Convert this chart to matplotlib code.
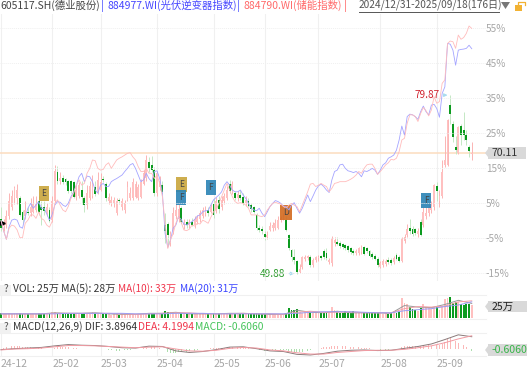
import matplotlib
matplotlib.use("Agg")
import matplotlib.pyplot as plt
from matplotlib.patches import Polygon, Rectangle

plt.rcParams['font.family'] = ['Noto Sans CJK SC', 'DejaVu Sans']

W, H = 528, 372

opens = [59.0,57.8,58.0,59.5,61.0,62.5,62.5,62.5,60.2,59.5,
         60.3,60.0,60.3,60.5,62.0,61.0,61.0,60.0,60.5,58.8,
         62.0,67.0,65.5,66.0,65.8,65.4,65.4,65.3,62.8,63.0,
         64.0,62.5,61.4,62.5,63.0,64.5,63.5,64.0,65.8,64.9,
         62.0,61.8,61.8,60.0,62.2,61.0,60.5,62.3,62.5,62.5,
         62.8,62.5,62.8,65.0,66.0,68.7,68.2,67.3,63.4,64.5,
         64.8,58.0,58.2,55.0,57.0,59.5,59.0,60.9,58.0,58.5,
         58.0,58.6,58.0,58.5,59.0,59.5,60.0,60.5,60.3,61.5,
         60.5,62.3,61.0,62.0,62.5,65.0,64.0,63.4,62.5,63.1,
         62.8,61.8,62.0,61.4,61.0,59.7,57.5,57.4,56.6,56.0,
         57.2,57.5,57.6,57.5,58.8,59.0,58.9,56.4,53.9,52.6,
         52.0,50.2,51.0,52.3,52.5,52.7,51.3,52.2,52.5,52.8,
         53.6,53.4,51.8,51.6,55.0,55.2,55.0,54.8,54.6,54.5,
         54.2,53.7,53.3,53.4,53.5,54.3,54.2,53.6,53.2,52.9,
         52.4,51.0,51.3,51.5,52.2,52.2,51.8,53.0,52.6,52.0,
         55.3,56.4,57.5,57.3,57.3,56.5,58.5,58.0,59.5,60.0,
         60.5,61.0,64.6,62.0,63.0,68.1,68.1,78.2,75.1,71.2,
         70.1,74.6,74.0,73.2,71.2,70.0]
closes = [57.6,58.2,59.5,62.0,63.0,64.2,64.0,59.8,58.8,60.5,
          60.0,61.0,61.5,61.6,60.2,60.5,60.4,61.0,58.7,62.0,
          67.2,65.5,66.0,65.3,65.2,63.8,63.7,62.8,64.0,64.8,
          62.8,61.4,63.5,64.6,65.0,63.3,65.6,65.2,65.6,62.5,
          62.8,62.3,62.2,62.0,62.0,62.0,61.8,64.5,63.5,65.2,
          65.0,64.5,65.3,66.8,69.0,67.6,67.3,63.4,66.8,65.5,
          63.6,57.0,56.3,56.5,60.0,60.5,60.8,58.6,58.4,58.1,
          58.5,58.1,59.0,59.2,60.0,60.5,60.4,60.0,61.0,59.7,
          62.0,60.8,62.3,63.0,64.0,63.8,65.0,62.6,63.2,62.6,
          61.8,62.2,61.2,60.8,60.3,57.6,57.2,57.0,56.0,56.3,
          57.8,58.0,58.3,58.9,59.2,59.4,57.2,54.1,52.7,52.2,
          50.2,50.6,52.6,52.7,52.8,51.3,52.2,52.6,52.6,52.5,
          52.6,52.5,52.2,55.8,55.5,54.9,54.5,54.4,54.1,53.8,
          53.5,53.4,53.6,54.1,54.3,53.2,53.6,52.9,52.6,52.4,
          51.3,51.6,52.0,52.0,51.8,51.6,52.5,52.4,52.0,55.8,
          56.1,57.3,57.0,56.6,56.7,57.0,56.4,60.3,60.0,61.0,
          61.2,64.8,63.7,63.0,67.0,69.0,75.7,76.7,72.9,70.6,
          74.5,73.1,73.2,72.3,70.5,70.11]
highs = [61.0,59.0,60.5,63.5,64.0,64.6,65.0,63.0,60.5,62.0,
         61.0,62.5,63.0,63.0,63.0,62.0,62.0,61.8,61.0,63.0,
         68.2,68.0,67.0,66.5,66.0,65.6,65.6,65.5,65.0,65.2,
         65.4,63.0,64.8,65.5,66.5,65.5,67.0,66.8,66.2,65.2,
         63.5,63.0,62.8,62.6,62.6,62.5,62.3,65.5,64.5,66.0,
         65.5,65.0,65.8,67.3,69.8,69.5,69.7,67.8,67.2,66.2,
         65.5,60.0,58.5,57.0,61.0,61.5,61.5,61.2,59.0,59.0,
         59.0,59.2,59.5,59.8,60.5,61.0,61.3,61.0,61.5,62.5,
         62.8,63.0,63.0,63.5,64.6,65.6,65.5,63.8,63.8,64.0,
         63.4,63.0,62.5,61.8,61.3,60.0,58.0,57.8,57.0,57.0,
         58.5,58.5,59.0,59.5,59.6,60.0,59.5,56.6,54.0,54.0,
         52.1,51.5,52.8,53.0,53.0,53.0,52.5,52.9,53.0,53.0,
         54.0,54.2,52.5,56.2,56.0,56.0,55.3,55.0,54.9,54.7,
         54.4,54.0,54.0,54.3,54.6,54.5,54.4,53.9,53.5,53.2,
         52.6,52.0,52.3,52.4,52.6,52.5,52.9,53.4,53.0,56.0,
         56.5,58.2,59.0,57.8,57.6,57.5,59.0,61.0,61.0,61.6,
         62.0,65.0,65.2,64.0,69.0,73.0,75.8,79.87,75.5,73.0,
         74.7,75.0,77.1,74.0,71.5,72.0]
lows = [57.0,57.0,57.5,59.0,60.5,61.5,61.5,59.5,58.3,59.0,
        59.8,59.5,60.0,60.3,59.8,58.0,59.8,59.6,58.5,58.5,
        61.8,65.0,65.0,65.0,64.8,63.4,63.4,62.6,62.3,62.5,
        61.5,60.3,60.8,62.3,62.5,63.0,63.2,63.8,65.2,62.0,
        61.5,61.2,61.0,59.8,61.6,60.5,60.0,62.0,62.3,62.3,
        62.5,62.3,62.5,64.8,65.5,67.0,67.0,63.0,63.0,64.0,
        63.2,55.0,54.5,54.5,56.5,59.0,58.5,58.3,57.3,57.5,
        57.6,57.8,57.6,58.2,58.6,59.2,59.5,59.6,60.0,59.2,
        60.0,60.0,60.5,61.5,62.2,63.4,63.3,62.2,62.0,62.2,
        61.4,61.3,61.0,60.2,60.0,57.2,56.9,56.6,55.6,55.7,
        57.0,57.0,57.2,57.3,58.5,58.8,57.0,53.8,52.0,51.5,
        49.88,50.0,50.6,52.0,52.2,51.0,51.0,51.8,52.0,52.2,
        52.3,52.2,51.5,51.2,54.5,54.6,54.2,54.0,53.8,53.5,
        53.2,53.0,53.0,53.0,53.2,53.0,53.3,52.6,52.3,52.1,
        51.0,50.8,51.0,51.2,51.5,51.3,51.5,52.2,51.9,51.8,
        55.0,56.0,56.6,56.2,56.4,56.0,56.2,57.7,59.0,59.5,
        60.0,60.5,62.0,61.0,62.6,67.8,68.0,75.0,72.0,70.0,
        70.0,71.5,72.3,71.5,69.5,69.0]

# index lines, percent change since the start
pv_inverter = [0,-3,-5.4,-1.8,0.1,0.4,0.1,-1.8,-2.2,1.1,
               3.5,4.9,3.5,4.4,5.4,3.5,3.5,1.9,0.1,1.6,
               4.4,5.4,5.2,4.4,4,4.9,6.8,8.2,10.1,12.5,
               13.5,11.1,12.7,12.5,11.1,8.7,7.8,10.1,10.6,9.7,
               9.7,11.1,11.6,12,12.5,13,14,14.9,15.9,16.3,
               14.9,13,11.1,11.6,13.5,12,11.1,14,14.2,12,
               7.8,-3.7,-7.7,-5.6,-2.2,-1.3,1.1,0.3,-1,-1.3,
               -0.8,-0.3,0.3,1.3,1.6,2.5,2.8,2.8,4.4,5.9,
               6.6,7.3,8.2,10.1,11.1,10.1,8.7,8.2,8.2,8.7,
               7.3,6.3,4.9,3.5,3,2.8,3.5,2.1,1.1,2.5,
               4,4.9,5.7,5.4,4.9,4.1,4,3,4.4,5.1,
               3.5,2.1,3.5,5.4,7.3,5.4,7,8.7,9.9,10.4,
               9.7,8.7,8,11.6,14,14.4,15.9,16.1,14.9,14.2,
               14,13.7,14,13.5,12.5,14.2,14,14.4,14.9,14.4,
               13.2,14.4,15.9,16.5,17.8,18.2,18.7,20.1,23,27,
               24.4,29.7,30.4,30.2,29.7,28.9,31.1,32.7,31.1,30.2,
               33,33.2,32,29.5,36.3,38.2,50.6,50.4,48.7,44.4,
               48.7,48.9,49,49.2,50.1,49.1]
storage = [0,-3,-5.4,-2.2,-1.3,-1.6,-2.7,-4.9,-4.9,-0.8,
           0.1,1.6,1.6,0.6,2.5,0.6,0.1,-1.3,-1.9,-0.3,
           4.9,5.9,4.4,3,2.5,4,6.3,7.8,10.1,11.6,
           10.1,10.6,13.5,14.9,17.3,17.1,14.9,14.4,14.6,15.9,
           16.5,14.9,16.1,17.3,17.8,18.2,18.7,19.2,19.4,18.2,
           17.3,15.4,14,14,14.9,13.5,13.5,12,13,10.6,
           6.8,-0.8,-8,-5.6,-3.7,-0.8,1.1,-0.6,-2.7,-2.9,
           -2.5,-1.3,-1.6,-0.8,-1,0.1,-0.3,-0.8,0.9,2.5,
           3,4.9,6.8,8.7,10.6,8.7,6.8,5.4,4.9,5.1,
           4.9,4.4,3.5,1.6,1.6,1.6,1.3,1.1,1.6,3,
           4,4.9,5.2,4.9,4.7,4,3.5,4.4,4.9,4.4,
           4,2.5,4.4,6.3,8.2,10.4,10.6,9.7,10.1,10.6,
           10.1,9.7,8.2,9.2,10.6,10.8,11.1,11.1,11.1,11.4,
           11.8,12.3,13,14,13.5,14.9,15.9,16.1,16.1,14.9,
           13.2,14,14.9,15.9,16.5,17.5,17.3,17.8,19.7,23,
           23.5,27.8,30.2,30.2,29.7,28.3,30.6,32.3,31.4,29.9,
           31.6,35.4,33.5,34,39.2,40.2,50.6,51.3,51.1,49.2,
           53,51.8,52.3,53.5,55.6,54.9]

volumes = [9,7,8,9,8,10,9,10,8,7,
           7,8,8,7,9,8,7,8,9,12,
           12,9,8,7,8,8,9,10,8,8,
           8,9,8,10,11,9,10,8,7,8,
           7,6,7,8,6,7,7,8,7,8,
           7,7,8,8,10,8,9,10,10,8,
           9,13,12,12,10,9,8,9,8,7,
           7,7,8,8,8,8,7,8,7,9,
           8,9,8,8,9,10,9,9,8,7,
           8,7,8,8,7,9,8,7,7,6,
           7,8,7,8,7,7,9,20,15,16,
           18,11,10,12,11,11,10,10,9,9,
           10,10,9,22,15,11,10,9,13,9,
           10,13,10,9,10,11,9,10,11,10,
           11,9,8,9,8,9,11,10,11,38,
           29,27,22,18,15,14,19,27,22,20,
           18,22,22,16,24,36,38,40,28,30,
           30,26,25,27,27,25]

# moving averages and DIF/DEA, read every fifth session
sample_days = list(range(0, 176, 5))
vol_ma5 = [8,8,8,8,10,9,9,10,8,7,7,9,9,11,8,8,8,9,9,8,
           7,7,15,11,10,13,10,10,10,9,24,21,20,26,34,28]
vol_ma10 = [8,8,8,8,9,9,9,9,9,8,7,8,9,10,10,8,8,8,9,8,
            8,7,11,13,11,11,12,10,10,10,18,22,21,23,31,33]
vol_ma20 = [8,8,8,8,8,9,9,9,9,9,8,8,8,9,9,9,8,8,8,8,
            8,8,9,11,12,12,12,11,10,10,14,16,18,22,25,31]
dif = [-0.2,0.1,0.3,0.5,1.0,1.4,1.2,1.1,0.8,0.4,0.3,0.9,0.8,-0.6,-1.1,-0.8,-0.2,0.6,0.7,0.1,
       -0.6,-0.8,-1.7,-1.9,-1.4,-0.7,-0.4,-0.3,-0.5,-0.4,0.2,0.8,1.6,3.0,4.5,3.8964]
dea = [-0.3,0,0.1,0.3,0.7,1.1,1.1,1.0,0.8,0.6,0.4,0.6,0.7,0,-0.6,-0.7,-0.4,0.2,0.5,0.3,
       -0.3,-0.6,-1.2,-1.6,-1.6,-1.1,-0.8,-0.5,-0.4,-0.4,-0.1,0.4,1.0,2.0,3.2,4.1994]
macd_hist = [.1,.3,.5,.7,.9,1.,1.,.9,.7,.6,
             .5,.5,.4,.4,.3,.2,.1,0.,-.1,.1,
             .4,.5,.6,.6,.5,.5,.4,.3,.2,.1,
             0.,-.1,-.1,0.,.1,.1,.1,.1,.1,-.1,
             -.2,-.3,-.4,-.5,-.5,-.5,-.4,-.4,-.2,-.1,
             0.,.1,.1,.2,.4,.5,.5,.5,.4,.2,
             0.,-.5,-1.1,-1.4,-1.3,-1.2,-1.0,-.9,-.9,-.8,
             -.7,-.6,-.5,-.4,-.2,-.1,0.,.1,.2,.2,
             .3,.3,.4,.4,.5,.6,.6,.5,.5,.4,
             .4,.3,.2,.1,0.,-.1,-.3,-.4,-.5,-.5,
             -.4,-.3,-.3,-.2,-.2,-.2,-.4,-.6,-.9,-1.0,
             -1.0,-.9,-.8,-.7,-.5,-.4,-.3,-.1,.1,.3,
             .5,.6,.7,1.0,1.1,1.1,1.1,1.0,.9,.8,
             .7,.6,.5,.5,.4,.3,.3,.2,.1,0.,
             -.1,-.2,-.2,-.2,-.2,-.1,0.,0.,.1,.5,
             .8,1.0,1.1,1.0,1.0,1.1,1.0,1.2,1.2,1.2,
             1.1,1.3,1.3,1.2,1.6,2.2,3.2,3.6,3.2,2.6,
             2.0,1.6,1.2,.6,.1,-.606]

month_days = [0, 19, 37, 58, 79, 98, 118, 141, 162]
month_labels = ['24-12', '25-02', '25-03', '25-04', '25-05', '25-06', '25-07', '25-08', '25-09']
pct_ticks = [-15, -5, 5, 15, 25, 35, 45, 55]

event_days = [16, 67, 67, 78, 106, 158]
event_prices = [63.4, 64.9, 62.6, 64.3, 60.2, 62.2]
event_letters = ['E', 'E', 'F', 'F', 'D', 'F']
event_colors = ['#c9a53c', '#c9a53c', '#2a83b5', '#2a83b5', '#d2691e', '#2a83b5']

base_price = 58.8
last_price = 70.11

RED_BODY = '#ffc0c0'
RED_WICK = '#fbb4b4'
GREEN_BODY = '#0c9a1f'
GREEN_WICK = '#c4e8c4'
GRID = '#f0f0f0'

px_per_day = 2.69
x_left = -1 / px_per_day
x_right = x_left + 486 / px_per_day


def panel(top, bottom):
    return fig.add_axes([0, 1 - bottom / H, 486 / W, (bottom - top) / H])


def fx(x):
    return x / W


def fy(y):
    return 1 - y / H


def label(x, y, s, color='#333333', size=7.5, **kw):
    return fig.text(fx(x), fy(y), s, color=color, fontsize=size, va='center', **kw)


fig = plt.figure(figsize=(W / 100, H / 100), dpi=100)

# price panel
ax = panel(14, 281)
ax.set_xlim(x_left, x_right)
ax.set_ylim(base_price + (220.5 - 281) / 5.95, base_price + (220.5 - 14) / 5.95)

days = list(range(len(closes)))
up = [c >= o for o, c in zip(opens, closes)]
wick_colors = [RED_WICK if u else GREEN_WICK for u in up]
body_colors = [RED_BODY if u else GREEN_BODY for u in up]
bottoms = [min(o, c) for o, c in zip(opens, closes)]
heights = [max(abs(c - o), 0.15) for o, c in zip(opens, closes)]
ax.vlines(days, lows, highs, colors=wick_colors, linewidth=0.7, zorder=2)
ax.bar(days, heights, bottom=bottoms, width=0.68, color=body_colors, linewidth=0, zorder=3)
ax.axhline(last_price, color='#fcdcbf', linewidth=1.1, zorder=1)

ax.set_xticks(month_days)
ax.set_xticklabels([])
ax.set_yticks([])
ax.tick_params(length=0)
ax.grid(axis='x', color=GRID, linewidth=0.8)
ax.set_axisbelow(True)
for s in ax.spines.values():
    s.set_visible(False)

ax_pct = ax.twinx()
ax_pct.set_ylim(*[(v / base_price - 1) * 100 for v in ax.get_ylim()])
ax_pct.plot(days, pv_inverter, color='#a4a4ff', linewidth=0.6, zorder=4)
ax_pct.plot(days, storage, color='#ffbcbc', linewidth=0.6, zorder=4)
ax_pct.set_yticks(pct_ticks)
ax_pct.set_yticklabels(['%d%%' % p for p in pct_ticks], color='#a6a6a6', fontsize=7.2)
ax_pct.tick_params(length=0, pad=0)
ax_pct.grid(axis='y', color=GRID, linewidth=0.7, linestyle=(0, (1, 1)))
for s in ax_pct.spines.values():
    s.set_visible(False)

for d, p, t, c in zip(event_days, event_prices, event_letters, event_colors):
    ax.text(d, p, t, fontsize=6, color='#444444', ha='center', va='center', zorder=6,
            bbox=dict(boxstyle='square,pad=0.35', facecolor=c, edgecolor='none', alpha=0.9))

high_day = highs.index(max(highs))
low_day = lows.index(min(lows))
ax.annotate('', xy=(high_day, max(highs)), xytext=(high_day - 3.5, max(highs)),
            arrowprops=dict(arrowstyle='-|>', color='#a9dcef', linewidth=0.7, mutation_scale=5), zorder=5)
ax.text(high_day - 3.8, max(highs), '%.2f' % max(highs), color='#d0222e', fontsize=7.2,
        ha='right', va='center', zorder=6)
ax.annotate('', xy=(low_day, min(lows)), xytext=(low_day - 4, min(lows)),
            arrowprops=dict(arrowstyle='-|>', color='#a9dcef', linewidth=0.7, mutation_scale=5), zorder=5)
ax.text(low_day - 4.2, min(lows), '%.2f' % min(lows), color='#2c9b2c', fontsize=7.2,
        ha='right', va='center', zorder=6)
ax.plot([0, 0.8], [closes[0] + 0.8, closes[0] + 0.8], color='black', marker='>', markersize=2.5,
        linewidth=1, zorder=7, clip_on=False)

# volume panel
ax_vol = panel(295, 319)
ax_vol.set_xlim(x_left, x_right)
ax_vol.set_ylim(-1 / 0.52, 23 / 0.52)
ax_vol.bar(days, volumes, width=0.68, color=body_colors, linewidth=0, zorder=2)
ax_vol.plot(sample_days, vol_ma5, color='#999999', linewidth=0.7, zorder=3)
ax_vol.plot(sample_days, vol_ma10, color='#f5a0a8', linewidth=0.7, zorder=3)
ax_vol.plot(sample_days, vol_ma20, color='#9a9df4', linewidth=0.7, zorder=3)
ax_vol.set_xticks(month_days)
ax_vol.set_xticklabels([])
ax_vol.set_yticks([])
ax_vol.tick_params(length=0)
ax_vol.grid(axis='x', color=GRID, linewidth=0.8)
ax_vol.set_axisbelow(True)
for k, s in ax_vol.spines.items():
    s.set_visible(k in ('top', 'bottom'))
    s.set_color(GRID)

# MACD panel
ax_macd = panel(333, 356)
ax_macd.set_xlim(x_left, x_right)
ax_macd.set_ylim(-7 / 3.15, 16 / 3.15)
ax_macd.bar(days, macd_hist, width=0.3, color=['#fbb8b8' if v >= 0 else '#addfad' for v in macd_hist],
            linewidth=0, zorder=2)
ax_macd.plot(sample_days, dif, color='#8a7a7a', linewidth=0.7, zorder=3)
ax_macd.plot(sample_days, dea, color='#f29aa2', linewidth=0.7, zorder=3)
ax_macd.set_xticks(month_days)
ax_macd.set_xticklabels(month_labels, color='#a6a6a6', fontsize=7.5, ha='left')
ax_macd.set_yticks([])
ax_macd.tick_params(length=0, pad=2)
ax_macd.grid(axis='x', color=GRID, linewidth=0.8)
ax_macd.set_axisbelow(True)
for k, s in ax_macd.spines.items():
    s.set_visible(k in ('top', 'bottom'))
    s.set_color(GRID)

# header
label(0, 5.5, '605117.SH(德业股份)', '#444444')
label(101, 5.5, '|', '#2b35ff')
label(107, 5.5, '884977.WI(光伏逆变器指数)', '#4646ff')
label(237, 5.5, '|', '#2b35ff')
label(243, 5.5, '884790.WI(储能指数)', '#ff6a6a')
label(344, 5.5, '|', '#ff4a4a')
label(359, 5.5, '2024/12/31-2025/09/18(176日)', '#555555', size=7.3)
fig.add_artist(plt.Line2D([fx(359), fx(499)], [fy(11.5), fy(11.5)], color='#555555', linewidth=0.7))
fig.add_artist(Polygon([(fx(501), fy(2)), (fx(510), fy(2)), (fx(505.5), fy(9))], closed=True,
                       transform=fig.transFigure, facecolor='#777777', edgecolor='none'))
fig.add_artist(Rectangle((fx(515), fy(11)), 7 / W, 6 / H, transform=fig.transFigure,
                         facecolor='#f2b233', edgecolor='none'))
fig.add_artist(plt.Line2D([fx(518), fx(518), fx(525), fx(525)], [fy(5), fy(2), fy(2), fy(5)],
                          color='#f2b233', linewidth=0.9))

# indicator captions
for y in (289.5, 327.5):
    fig.add_artist(Rectangle((0, fy(y + 5)), 11 / W, 10 / H, transform=fig.transFigure,
                             facecolor='#f1f1f1', edgecolor='none'))
    label(4, y, '?', '#555555', size=7.2, zorder=10)
label(13, 289, 'VOL: 25万 MA(5): 28万', '#333333', size=7.4)
label(118, 289, 'MA(10): 33万', '#f0364c', size=7.2)
label(180, 289, 'MA(20): 31万', '#3c46ff', size=7.2)
label(13, 327, 'MACD(12,26,9) DIF: 3.8964', '#333333', size=7.4)
label(138, 327, 'DEA: 4.1994', '#f0364c', size=7.4)
label(195, 327, 'MACD: -0.6060', '#45c45a', size=7.4)

# last value flags on the right
for x0, y0, x1, y1, s, c in [(488, 147, 526, 159, '70.11', '#333333'),
                             (488, 301, 527, 312, '25万', '#222222'),
                             (488, 344, 527, 356, '-0.6060', '#39b54a')]:
    fig.add_artist(Rectangle((fx(x0), fy(y1)), (x1 - x0) / W, (y1 - y0) / H, transform=fig.transFigure,
                             facecolor='#d9d9d9', edgecolor='none'))
    fig.add_artist(Polygon([(fx(x0), fy((y0 + y1) / 2 - 4)), (fx(x0), fy((y0 + y1) / 2 + 4)),
                            (fx(x0 - 3), fy((y0 + y1) / 2))], closed=True, transform=fig.transFigure,
                           facecolor='#d9d9d9', edgecolor='none'))
    label(x0 + 4, (y0 + y1) / 2, s, c, size=7.6, zorder=10)

fig.savefig('out.png', dpi=100)
